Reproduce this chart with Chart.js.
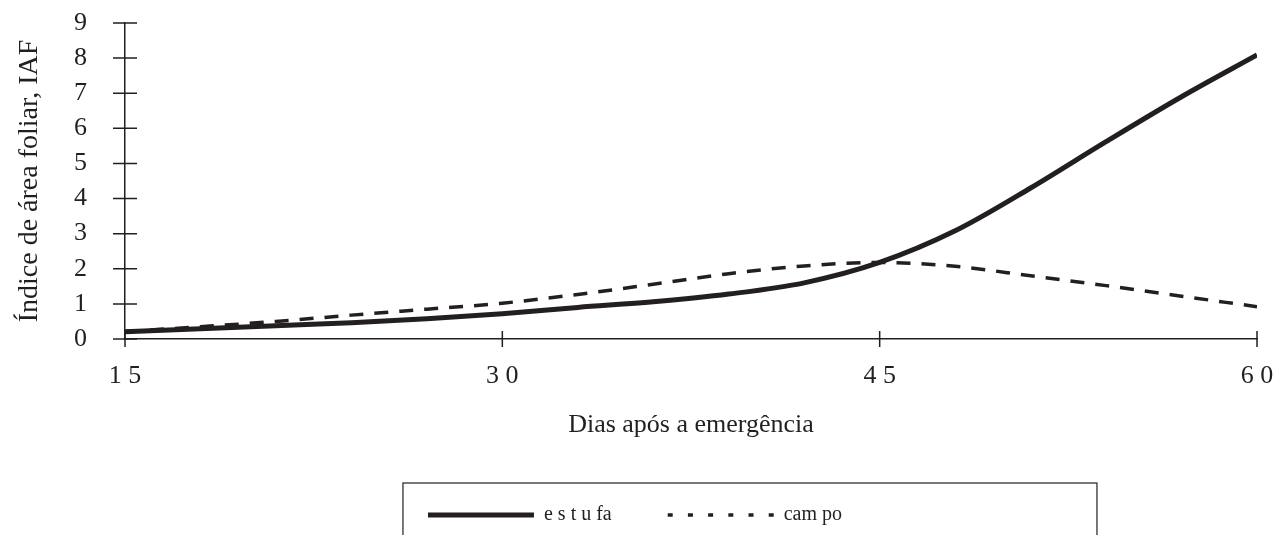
<!DOCTYPE html>
<html>
<head>
<meta charset="utf-8">
<script src="https://cdn.jsdelivr.net/npm/chart.js@4"></script>
<style>
  html, body { margin: 0; padding: 0; background: #fff; overflow: hidden; }
  #wrap { width: 1283px; height: 535px; }
</style>
</head>
<body>
<div id="wrap"><canvas id="iafChart" width="1283" height="535"></canvas></div>
<script>
// Dias após a emergência
const dias = [15, 18, 21, 24, 27, 30, 33, 36, 39, 42, 45, 48, 51, 54, 57, 60];
const estufa = [0.21, 0.29, 0.38, 0.46, 0.58, 0.72, 0.9, 1.06, 1.28, 1.6, 2.18, 3.08, 4.3, 5.62, 6.9, 8.09];
const campo = [0.21, 0.35, 0.5, 0.68, 0.85, 1.02, 1.27, 1.56, 1.86, 2.08, 2.18, 2.07, 1.8, 1.52, 1.22, 0.92];
const xTicks = [15, 30, 45, 60];
const seriesNames = ['e s t u fa', 'cam po'];

const ink = '#231f20';
const serif = "'Liberation Serif', 'DejaVu Serif', serif";

// ticks that cross the axis line (Chart.js only draws them outward)
const crossTicks = {
  id: 'crossTicks',
  beforeDatasetsDraw(chart) {
    const ctx = chart.ctx;
    const xs = chart.scales.x;
    const ys = chart.scales.y;
    ctx.save();
    ctx.strokeStyle = ink;
    ctx.lineWidth = 1.5;
    ctx.beginPath();
    ys.ticks.forEach(t => {
      const py = ys.getPixelForValue(t.value);
      ctx.moveTo(xs.left - 12, py);
      ctx.lineTo(xs.left + 12, py);
    });
    xs.ticks.forEach(t => {
      const px = xs.getPixelForValue(t.value);
      ctx.moveTo(px, ys.bottom + 8);
      ctx.lineTo(px, ys.bottom - 8);
    });
    ctx.stroke();
    ctx.restore();
  }
};

// frame round the legend, running off the bottom of the picture
const legendFrame = {
  id: 'legendFrame',
  afterDraw(chart) {
    const hb = chart.legend.legendHitBoxes;
    if (!hb || !hb.length) return;
    const ctx = chart.ctx;
    ctx.save();
    ctx.strokeStyle = ink;
    ctx.lineWidth = 1.2;
    ctx.strokeRect(hb[0].left - 25, 483, 694, 120);
    ctx.restore();
  }
};

const ctx = document.getElementById('iafChart').getContext('2d');

new Chart(ctx, {
  type: 'line',
  data: {
    datasets: [{
      label: seriesNames[0],
      data: dias.map((d, i) => ({ x: d, y: estufa[i] })),
      borderColor: ink,
      borderWidth: 5,
      pointRadius: 0,
      cubicInterpolationMode: 'monotone',
      fill: false
    }, {
      label: seriesNames[1],
      data: dias.map((d, i) => ({ x: d, y: campo[i] })),
      borderColor: ink,
      borderWidth: 3.5,
      borderDash: [14, 11],
      pointRadius: 0,
      cubicInterpolationMode: 'monotone',
      fill: false
    }]
  },
  options: {
    responsive: false,
    animation: false,
    layout: {
      padding: { top: 23, right: 26, left: 13, bottom: 0 }
    },
    plugins: {
      tooltip: { enabled: false },
      legend: {
        position: 'bottom',
        labels: {
          usePointStyle: true,
          pointStyleWidth: 106,
          boxHeight: 20,
          padding: 56,
          color: ink,
          font: { family: serif, size: 20 },
          generateLabels: (chart) => chart.data.datasets.map((ds, i) => ({
            text: ds.label,
            pointStyle: 'line',
            strokeStyle: ink,
            fillStyle: ink,
            fontColor: ink,
            lineWidth: i === 0 ? 5 : 3.5,
            lineDash: i === 0 ? [] : [5, 15.2],
            lineCap: 'butt',
            datasetIndex: i,
            hidden: false
          }))
        }
      }
    },
    scales: {
      x: {
        type: 'linear',
        min: 15,
        max: 60,
        afterBuildTicks: (scale) => { scale.ticks = xTicks.map(v => ({ value: v })); },
        afterFit: (scale) => { scale.height = 110; },
        border: { display: true, color: ink, width: 1.5 },
        grid: { drawOnChartArea: false, tickLength: 22, tickColor: 'rgba(0,0,0,0)' },
        ticks: {
          color: ink,
          padding: 0,
          maxRotation: 0,
          font: { family: serif, size: 26 },
          callback: (v) => String(v).split('').join(' ')
        },
        title: {
          display: true,
          text: 'Dias após a emergência',
          color: ink,
          font: { family: serif, size: 26 },
          padding: { top: 0, bottom: 8 }
        }
      },
      y: {
        min: 0,
        max: 9,
        afterFit: (scale) => { scale.width = 112; },
        border: { display: true, color: ink, width: 1.5 },
        grid: { drawOnChartArea: false, tickLength: 38, tickColor: 'rgba(0,0,0,0)' },
        ticks: {
          stepSize: 1,
          autoSkip: false,
          color: ink,
          padding: 0,
          font: { family: serif, size: 26 }
        },
        title: {
          display: true,
          text: 'Índice de área foliar, IAF',
          color: ink,
          font: { family: serif, size: 28 },
          padding: { top: 0, bottom: 0 }
        }
      }
    }
  },
  plugins: [crossTicks, legendFrame]
});
</script>
</body>
</html>
